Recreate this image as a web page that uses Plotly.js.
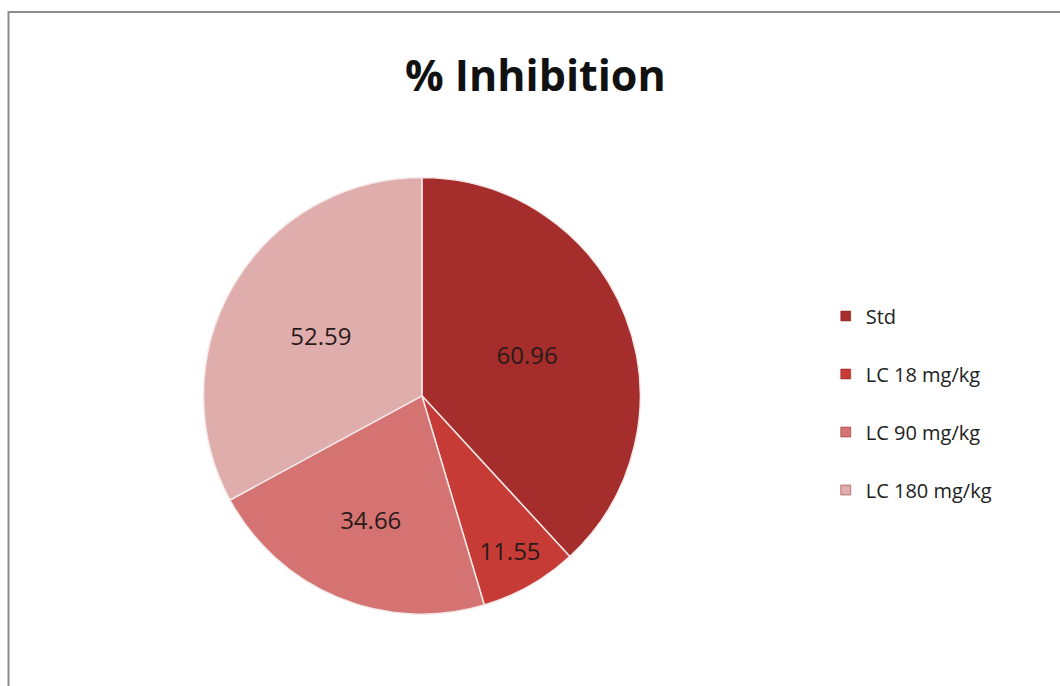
<!DOCTYPE html>
<html>
<head>
<meta charset="utf-8">
<script src="https://cdn.plot.ly/plotly-3.0.1.min.js"></script>
<style>html,body{margin:0;padding:0;background:#fff;}#chart{width:1060px;height:686px;}</style>
</head>
<body>
<div id="chart"></div>
<script>
const categories = ["Std", "LC 18 mg/kg", "LC 90 mg/kg", "LC 180 mg/kg"];
const inhibition = [60.96, 11.55, 34.66, 52.59];
const sliceColors = ["#a52d2b", "#c63b36", "#d47372", "#e0adad"];
const chartTitle = "% Inhibition";

const pieTrace = {
  type: "pie",
  labels: categories,
  values: inhibition,
  sort: false,
  direction: "clockwise",
  rotation: 0,
  marker: { colors: sliceColors, line: { color: "#f4e8e8", width: 1.5 } },
  textinfo: "value",
  texttemplate: "%{value:.2f}",
  textposition: "inside",
  insidetextorientation: "horizontal",
  textfont: { family: "Open Sans, sans-serif", size: 24, color: "#2a1a1a" },
  domain: { x: [0.192, 0.604], y: [0.104, 0.742] },
  showlegend: false,
  hoverinfo: "label+value"
};

const legendTraces = categories.map((c, i) => ({
  type: "scatter",
  mode: "markers",
  x: [null], y: [null],
  name: c,
  legendgroup: "g" + i,
  marker: { symbol: "square", size: 10, color: sliceColors[i], line: { color: "#8a2020", width: 0.5 } },
  showlegend: true,
  hoverinfo: "skip"
}));

const layout = {
  width: 1060, height: 686,
  margin: { l: 0, r: 0, t: 0, b: 0 },
  paper_bgcolor: "#ffffff",
  plot_bgcolor: "#ffffff",
  title: {
    text: "<b>" + chartTitle + "</b>",
    font: { family: "Open Sans, sans-serif", size: 43, color: "#111" },
    x: 0.505, xanchor: "center",
    y: 0.89, yanchor: "middle"
  },
  xaxis: { visible: false, domain: [0.9, 0.95] },
  yaxis: { visible: false, domain: [0.9, 0.95] },
  showlegend: true,
  legend: {
    x: 0.779, xanchor: "left",
    y: 0.4125, yanchor: "middle",
    font: { family: "Open Sans, sans-serif", size: 20, color: "#222" },
    tracegroupgap: 29,
    itemwidth: 30,
    bgcolor: "rgba(0,0,0,0)"
  },
  shapes: [{
    type: "rect", xref: "paper", yref: "paper",
    x0: 8.5 / 1060, x1: 1.02, y0: -0.02, y1: 1 - 12 / 686,
    line: { color: "#8c8c8c", width: 2 }
  }]
};

Plotly.newPlot("chart", [pieTrace].concat(legendTraces), layout, { displayModeBar: false, staticPlot: true });
</script>
</body>
</html>
